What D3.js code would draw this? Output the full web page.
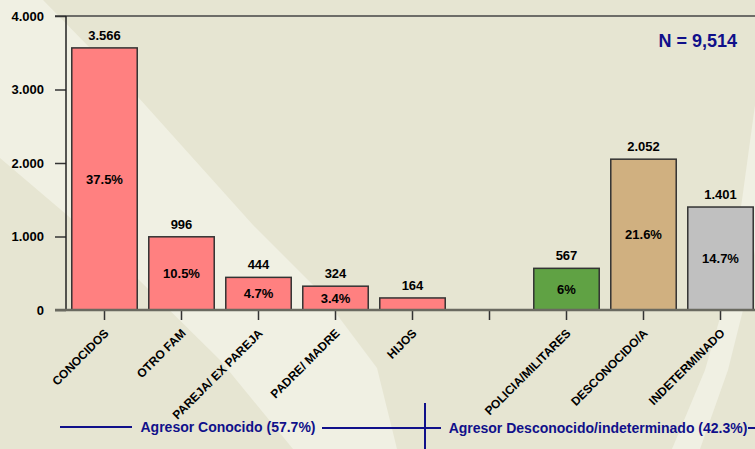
<!DOCTYPE html>
<html>
<head>
<meta charset="utf-8">
<script src="https://cdn.jsdelivr.net/npm/d3@7"></script>
<style>
  body { margin: 0; background: #e6e5d2; }
  svg { display: block; font-family: "Liberation Sans", Arial, sans-serif; font-weight: bold; }
</style>
</head>
<body>
<svg id="viz" width="755" height="449"></svg>
<script>
// data
const categories = ["CONOCIDOS", "OTRO FAM", "PAREJA/ EX PAREJA", "PADRE/ MADRE", "HIJOS", "",
                    "POLICIA/MILITARES", "DESCONOCIDO/A", "INDETERMINADO"]
const counts = [3566, 996, 444, 324, 164, null, 567, 2052, 1401]
const percents = ["37.5%", "10.5%", "4.7%", "3.4%", "", "", "6%", "21.6%", "14.7%"]
const barColors = ["#ff8080", "#ff8080", "#ff8080", "#ff8080", "#ff8080", null, "#60a244", "#d0b080", "#c0c0c0"]
const yTicks = [0, 1000, 2000, 3000, 4000]
const groupLabels = ["Agresor Conocido (57.7%)", "Agresor Desconocido/indeterminado (42.3%)"]
const totalLabel = "N = 9,514"

const MARGIN = {top: 16, bottom: 139, left: 66, right: -4}
const svg = d3.select("svg#viz")
const width = +svg.attr('width')
const height = +svg.attr('height')

const loc = d3.formatLocale({decimal: ",", thousands: ".", grouping: [3], currency: ["", ""]})
const fmt = loc.format(",")

// background bands
const bg = svg.append('g')
bg.append('rect').attr('width', width).attr('height', height).attr('fill', '#e6e5d2')
const lightBands = [
  [[0,0],[43,0],[138,97],[253,225],[320,292],[377,368],[397,449],[293,449],[220,360],[137,278],[67,215],[0,158]],
  [[755,105],[742,200],[728,290],[705,370],[672,449],[700,449],[728,370],[748,290],[755,250]]
]
bg.selectAll('path.band').data(lightBands)
  .join('path')
  .attr('class', 'band')
  .attr('d', d => d3.line().curve(d3.curveLinearClosed)(d))
  .attr('fill', '#f0f0e3')

const x_scale = d3.scaleBand()
  .domain(categories)
  .range([MARGIN.left, width - MARGIN.right])
  .paddingInner(0.15)
  .paddingOuter(0.075)

const y_scale = d3.scaleLinear()
  .domain([0, 4000])
  .range([height - MARGIN.bottom, MARGIN.top])

const y0 = y_scale(0)

// frame lines
svg.append('line')
  .attr('x1', 55).attr('x2', width).attr('y1', y_scale(4000)).attr('y2', y_scale(4000))
  .attr('stroke', '#444').attr('stroke-width', 1.5)

// y axis
const y_axis = d3.axisLeft(y_scale).tickValues(yTicks).tickSize(11).tickFormat(fmt)
const gy = svg.append('g').attr('transform', `translate(${MARGIN.left},0)`).call(y_axis)
gy.select('.domain').remove()
gy.selectAll('.tick line').attr('stroke', '#333').attr('stroke-width', 1.5)
gy.selectAll('.tick text')
  .attr('x', -22)
  .attr('font-size', 13).attr('font-weight', 'bold').attr('fill', '#000')
  .attr('font-family', '"Liberation Sans", Arial, sans-serif')

svg.append('line')
  .attr('x1', MARGIN.left).attr('x2', MARGIN.left).attr('y1', y_scale(4000)).attr('y2', y0)
  .attr('stroke', '#222').attr('stroke-width', 1.5)

// bars
const data = categories.map((c, i) => ({cat: c, v: counts[i], pct: percents[i], color: barColors[i]}))
  .filter(d => d.v != null)

svg.selectAll('rect.bar').data(data)
  .join('rect')
  .attr('class', 'bar')
  .attr('x', d => x_scale(d.cat))
  .attr('width', x_scale.bandwidth())
  .attr('y', d => y_scale(d.v))
  .attr('height', d => y0 - y_scale(d.v))
  .attr('fill', d => d.color)
  .attr('stroke', '#333')
  .attr('stroke-width', 1.5)

svg.selectAll('text.val').data(data)
  .join('text')
  .attr('class', 'val')
  .attr('x', d => x_scale(d.cat) + x_scale.bandwidth() / 2)
  .attr('y', d => y_scale(d.v) - 8)
  .attr('text-anchor', 'middle')
  .attr('font-size', 13)
  .attr('fill', '#000')
  .text(d => fmt(d.v))

svg.selectAll('text.pct').data(data.filter(d => d.pct))
  .join('text')
  .attr('class', 'pct')
  .attr('x', d => x_scale(d.cat) + x_scale.bandwidth() / 2)
  .attr('y', d => (y_scale(d.v) + y0) / 2)
  .attr('dy', '0.36em')
  .attr('text-anchor', 'middle')
  .attr('font-size', 13)
  .attr('fill', '#000')
  .text(d => d.pct)

// x axis
const x_axis = d3.axisBottom(x_scale).tickSize(10).tickSizeOuter(0)
const gx = svg.append('g').attr('transform', `translate(0,${y0})`).call(x_axis)
gx.select('.domain').remove()
gx.selectAll('.tick line').attr('stroke', '#333').attr('stroke-width', 1.5)
gx.selectAll('.tick text')
  .attr('font-size', 12).attr('font-weight', 'bold').attr('fill', '#000')
  .attr('font-family', '"Liberation Sans", Arial, sans-serif')
  .attr('text-anchor', 'end')
  .attr('y', 0).attr('dy', 0)
  .attr('transform', 'translate(5,24) rotate(-45)')

svg.append('line')
  .attr('x1', 55).attr('x2', width).attr('y1', y0).attr('y2', y0)
  .attr('stroke', '#6a6a60').attr('stroke-width', 2.5)

// N label
svg.append('text')
  .attr('x', 737).attr('y', 47)
  .attr('text-anchor', 'end')
  .attr('font-size', 18)
  .attr('fill', '#10108a')
  .text(totalLabel)

// group legend along the bottom
const legend = svg.append('g').attr('stroke', '#10108a').attr('stroke-width', 2)
legend.append('line').attr('x1', 60).attr('x2', 132).attr('y1', 427).attr('y2', 427)
legend.append('line').attr('x1', 322).attr('x2', 441).attr('y1', 428).attr('y2', 428)
legend.append('line').attr('x1', 425).attr('x2', 425).attr('y1', 403).attr('y2', 449)
legend.append('line').attr('x1', 748).attr('x2', 755).attr('y1', 428).attr('y2', 428)

svg.append('text')
  .attr('x', 228).attr('y', 432)
  .attr('text-anchor', 'middle')
  .attr('font-size', 14).attr('fill', '#10108a')
  .text(groupLabels[0])
svg.append('text')
  .attr('x', 598).attr('y', 433)
  .attr('text-anchor', 'middle')
  .attr('font-size', 14).attr('fill', '#10108a')
  .text(groupLabels[1])
</script>
</body>
</html>
